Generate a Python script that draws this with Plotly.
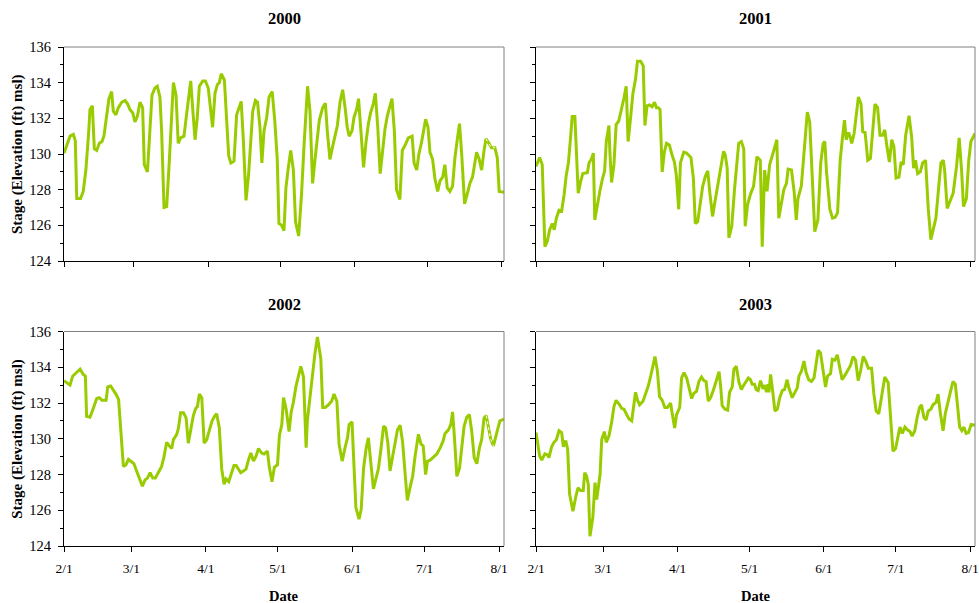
import plotly.graph_objects as go
import pandas as pd

# ---------------- data (day offset from Feb 1, stage in ft msl) ----------------
years = [2000, 2001, 2002, 2003]
month_labels = ["2/1", "3/1", "4/1", "5/1", "6/1", "7/1", "8/1"]

days_2000 = [0, 2.5, 3.9, 4.7, 5.3, 6.9, 8, 9.1, 10.3, 10.8, 11.8, 12.6, 13.6, 14.7, 15.8, 16.6, 18, 18.7,
             19.8, 20.5, 21.6, 22.6, 24, 25.4, 26.5, 27.4, 28.6, 29.5, 30.5, 31.6, 32.7, 33.4, 34.7, 35.5,
             36.6, 37.8, 38.8, 39.9, 40.6, 41.6, 42.7, 43.8, 45.5, 46.6, 47.5, 48.5, 49.9, 50.7, 51.7, 52.7,
             53.5, 54.5, 55.4, 56.3, 57.7, 58.8, 60, 61, 61.8, 62.8, 63.8, 64.6, 65.4, 66.7, 67.6, 68.5,
             69.4, 70.7, 71.8, 73.7, 74.6, 75.7, 76.8, 77.8, 78.5, 79.6, 80.5, 81.5, 82.3, 83.2, 84.3, 85.3,
             86.6, 87.7, 88.7, 89.4, 90.5, 91.5, 92.3, 93.4, 94.3, 95.4, 96.3, 97.6, 98.8, 99.8, 100.5,
             101.3, 102.3, 103.4, 104.4, 105.4, 106.2, 107.6, 108.7, 109.5, 110.6, 111.7, 112.8, 113.7,
             114.8, 115.9, 117, 117.8, 118.6, 119.8, 120.6, 121.7, 122.5, 123.4, 124.6, 125.6, 126.6,
             127.5, 128.6, 129.5, 130.5, 131.5, 132.5, 133.5, 134.5, 135.6, 136.4, 137.4, 138.3, 139.7,
             140.7, 141.9, 143.2, 144.8, 145.6, 146.7, 147.6, 148.7, 149.4, 150.4, 151.4, 152.2, 153.3,
             154.3, 155.4, 156.4, 157.5, 158.4, 159.4, 160.5, 161.6, 162.6, 163.6, 164.5, 165.4, 166.6,
             167.7, 168.8, 169.9, 170.9, 171.6, 172.7, 173.7, 174.7, 175.5, 176.5, 177.8, 179.2, 180.2,
             181, 183]
stage_2000 = [130.04, 131.0, 131.1, 130.75, 127.5, 127.5, 127.9, 129.1, 131.3, 132.5, 132.7, 130.3, 130.2,
              130.6, 130.7, 131.0, 132.4, 133.1, 133.5, 132.4, 132.2, 132.6, 132.9, 133.0, 132.8, 132.5,
              132.3, 131.8, 132.1, 132.9, 132.6, 129.4, 129.0, 130.6, 133.3, 133.7, 133.8, 133.2, 131.3,
              127.0, 127.05, 129.6, 134.0, 133.3, 130.6, 130.9, 131.0, 131.9, 133.2, 134.1, 132.6, 130.8,
              132.0, 133.8, 134.1, 134.1, 133.7, 132.6, 131.5, 133.4, 133.9, 134.0, 134.5, 134.15, 132.05,
              129.9, 129.5, 129.6, 132.2, 132.95, 130.75, 127.4, 128.9, 130.65, 132.4, 133.0, 132.9,
              131.5, 129.5, 131.3, 132.05, 133.2, 133.5, 131.8, 129.7, 126.1, 126.0, 125.7, 128.1, 129.35,
              130.2, 129.1, 126.2, 125.4, 127.75, 130.4, 132.4, 133.8, 132.4, 128.35, 129.7, 130.75, 131.9,
              132.6, 132.85, 131.3, 129.7, 130.4, 131.1, 131.6, 132.9, 133.6, 132.5, 131.5, 131.0, 131.3,
              132.05, 132.5, 133.1, 131.5, 129.25, 130.65, 131.7, 132.3, 132.8, 133.4, 131.5, 128.9,
              130.2, 131.4, 132.15, 132.7, 133.1, 131.3, 128.0, 127.45, 130.2, 130.5, 130.9, 131.0, 129.5,
              129.1, 130.0, 130.65, 131.1, 131.95, 131.5, 130.1, 129.7, 128.6, 127.9, 128.5, 128.7, 129.4,
              128.1, 127.9, 128.2, 129.8, 130.85, 131.7, 130.0, 127.2, 127.75, 128.35, 128.7, 129.45,
              130.1, 129.7, 129.1, 130.2, 130.85, 130.65, 130.35, 130.35, 129.8, 127.9, 127.85]

days_2001 = [0, 1.5, 2.6, 3.7, 4.7, 5.7, 6.8, 7.6, 8.5, 9.6, 10.7, 11.7, 12.6, 13.5, 14.4, 15.1, 16.2, 16.9,
             17.6, 18.6, 19.5, 21.4, 22.1, 23.2, 23.9, 24.5, 25.5, 26.6, 27.6, 28.6, 29.3, 30.4, 30.8,
             31.5, 32.5, 33.4, 34.5, 35.6, 36.6, 37.6, 38.4, 39.4, 40.4, 41.5, 42.3, 43.6, 44.7, 45.4,
             46.3, 47.3, 48.4, 49.4, 50.2, 50.9, 51.7, 52.6, 53.5, 54.4, 55.6, 56.7, 57.7, 58.5, 59.5,
             60.2, 61.6, 62.8, 64.6, 65.6, 66.4, 67.4, 68.5, 69.5, 70.6, 71.6, 72.4, 73.6, 74.5, 75.6,
             76.9, 78.2, 78.9, 79.7, 80.4, 81.6, 82.8, 83.8, 84.5, 85.6, 86.6, 87.2, 88.2, 89.3, 90.7,
             92.1, 93.5, 94.3, 95.3, 96.3, 97.4, 98.6, 99.6, 100.4, 101.2, 102.3, 103.3, 104.4, 105.1,
             106.5, 107.6, 108.5, 109.2, 110.6, 112, 113.1, 114.1, 115.2, 116.2, 117.5, 118.7, 119.7,
             120.4, 121.1, 122.5, 123.6, 124.7, 125.7, 126.8, 127.7, 128.6, 129.3, 130.3, 131, 131.6,
             132.6, 133.3, 134.4, 135.5, 136.2, 137.2, 138.3, 139.4, 140.5, 141.3, 142.4, 143.4, 144.5,
             145.4, 146.2, 147.3, 148.3, 149.2, 150.1, 151.3, 152.2, 153.1, 154.1, 155.5, 156.6, 157.4,
             158.2, 159.1, 160.2, 161.2, 162.4, 163.5, 164.6, 165.6, 166.7, 167.7, 168.8, 169.8, 170.4,
             171.4, 172.5, 173.9, 175.3, 176.4, 177.4, 178.2, 179.4, 180.4, 181.3, 183]
stage_2001 = [129.3, 129.8, 129.4, 124.8, 125.1, 125.75, 126.1, 125.75, 126.4, 126.85, 126.8, 127.7, 128.8,
              129.5, 130.9, 132.1, 132.1, 129.9, 127.8, 128.45, 128.9, 128.95, 129.5, 129.75, 130.05,
              126.3, 127.15, 127.9, 128.55, 129.05, 130.7, 131.6, 130.1, 128.4, 129.4, 131.65, 131.85,
              132.45, 133.1, 133.8, 130.7, 132.0, 133.4, 134.2, 135.2, 135.2, 134.95, 131.6, 132.7,
              132.75, 132.65, 132.9, 132.6, 132.6, 132.5, 129.0, 130.1, 130.6, 130.5, 129.95, 129.55,
              128.8, 126.9, 129.5, 130.1, 130.05, 129.8, 128.65, 126.1, 126.2, 127.35, 128.2, 128.75,
              129.05, 127.9, 126.5, 127.25, 128.1, 129.0, 130.15, 129.95, 129.2, 125.3, 125.95, 128.1,
              129.75, 130.6, 130.7, 130.3, 125.95, 127.15, 127.7, 128.2, 129.85, 129.65, 124.8, 129.1,
              127.9, 129.4, 129.95, 130.4, 130.8, 126.4, 127.15, 128.0, 128.35, 129.15, 129.1, 127.9,
              126.3, 127.5, 128.2, 130.5, 132.35, 131.8, 128.1, 125.65, 126.3, 129.5, 130.6, 130.7, 129.0,
              126.9, 126.4, 126.45, 126.7, 129.65, 130.85, 131.9, 130.8, 131.2, 130.95, 130.6, 131.15,
              132.1, 133.2, 132.8, 131.25, 131.2, 129.65, 129.75, 131.6, 132.8, 132.6, 131.05, 131.05,
              131.35, 130.5, 129.55, 130.8, 130.4, 128.65, 128.7, 129.55, 129.4, 131.05, 132.15, 130.95,
              129.2, 129.65, 128.9, 129.0, 129.5, 129.65, 126.95, 125.2, 125.75, 126.4, 127.9, 129.5,
              129.65, 129.0, 126.95, 127.35, 127.8, 129.3, 130.9, 129.1, 127.05, 127.5, 129.65, 130.7,
              131.15]

days_2002 = [0, 1.4, 2.5, 3.6, 5, 6.7, 8, 8.9, 9.4, 10.8, 12.2, 13.6, 14.7, 15.8, 17.5, 18.2, 19.4, 20.5,
             21.6, 22.7, 23.6, 24.7, 25.8, 26.8, 28.2, 29.1, 30.2, 31.3, 32.6, 33.7, 34.7, 35.8, 36.9, 38,
             39.3, 40.6, 41.6, 42.7, 43.8, 44.8, 45.5, 46.9, 47.6, 48.5, 49.7, 50.8, 51.7, 52.8, 53.8,
             54.8, 55.5, 56.3, 57.3, 58.3, 59.4, 60.5, 61.6, 62.6, 63.5, 64.6, 65.6, 66.6, 67.4, 68.5,
             69.8, 70.7, 71.6, 72.5, 73.5, 74.6, 75.7, 76.7, 77.7, 78.8, 79.8, 80.9, 82.2, 83.2, 84.6,
             85.4, 86.5, 87.5, 88.8, 89.6, 90.6, 91.3, 92.4, 93.6, 94.5, 95.4, 96.5, 97.5, 98.5, 99.6,
             100.7, 101.2, 102.4, 103.5, 104.4, 105.4, 106.8, 107.6, 108.6, 110, 111.3, 112.3, 113.5,
             114.4, 115.7, 116.9, 117.9, 118.6, 119.8, 120.4, 121.4, 122.7, 123.6, 124.6, 125.7, 126.6,
             127.6, 128.7, 129.8, 130.8, 131.8, 132.9, 133.8, 134.7, 135.6, 136.6, 137.7, 138.7, 139.8,
             140.8, 141.9, 142.8, 143.9, 145, 146, 147.4, 148.5, 149.4, 150.4, 151.2, 152.3, 153.7,
             155.1, 156.5, 157.6, 158.5, 159.9, 160.9, 161.6, 162.4, 163.4, 164.5, 165.5, 166.4, 167.5,
             168.6, 169.6, 170.6, 171.7, 172.8, 173.7, 174.7, 175.6, 176.5, 177.5, 178.6, 179.7, 180.6,
             181.3, 183]
stage_2002 = [133.25, 133.1, 133.0, 133.5, 133.7, 133.9, 133.6, 133.5, 131.25, 131.2, 131.7, 132.25, 132.3,
              132.15, 132.15, 132.9, 132.95, 132.75, 132.5, 132.2, 130.6, 128.45, 128.55, 128.85, 128.7,
              128.6, 128.2, 127.75, 127.35, 127.7, 127.8, 128.1, 127.8, 127.8, 128.1, 128.45, 129.0,
              129.8, 129.6, 129.45, 129.95, 130.25, 130.6, 131.45, 131.45, 131.15, 129.75, 130.6, 131.3,
              131.7, 131.8, 132.5, 132.3, 129.75, 129.95, 130.5, 131.0, 131.25, 131.4, 130.6, 128.3,
              127.45, 127.75, 127.6, 128.2, 128.5, 128.5, 128.3, 128.1, 128.2, 128.3, 128.8, 129.2, 128.75,
              129.0, 129.45, 129.2, 129.15, 129.3, 128.4, 127.6, 128.4, 128.55, 130.2, 130.8, 132.3,
              131.65, 130.4, 131.5, 132.05, 132.95, 133.5, 134.05, 133.45, 129.5, 131.0, 132.45, 133.8,
              134.8, 135.7, 134.5, 131.75, 131.75, 131.9, 132.1, 132.5, 132.1, 129.7, 128.75, 129.5,
              130.05, 130.8, 130.95, 129.1, 126.15, 125.5, 126.05, 128.35, 129.5, 130.05, 128.75, 127.2,
              127.8, 128.35, 129.4, 130.7, 130.6, 129.75, 128.2, 128.9, 129.65, 130.5, 130.75, 129.85,
              128.0, 126.55, 127.25, 127.9, 129.0, 130.25, 129.7, 129.6, 128.0, 128.75, 128.8, 128.95,
              129.15, 129.5, 129.85, 130.3, 130.5, 130.8, 131.5, 130.05, 127.9, 128.35, 129.6, 130.7,
              131.2, 131.35, 130.4, 128.95, 128.6, 129.5, 129.95, 131.15, 131.3, 130.6, 129.95, 129.6,
              130.25, 130.65, 131.0, 131.1]

days_2003 = [0, 1.5, 2.4, 3.7, 4.7, 5.4, 6.5, 7.5, 8.5, 9.6, 10.7, 11.4, 12.4, 13.2, 14, 15.4, 16.5, 17.5,
             18.6, 19.7, 20.3, 21.1, 21.8, 22.5, 23.7, 24.6, 25.3, 26.7, 27.4, 28.5, 29.3, 30.4, 31.5,
             32.5, 33.4, 34.6, 35.7, 36.7, 37.8, 38.8, 39.9, 40.8, 41.5, 42.2, 43.2, 44.6, 45.7, 46.8,
             47.8, 48.7, 49.6, 50.6, 51.5, 52.6, 53.7, 54.8, 56.1, 56.8, 57.8, 58.6, 59.9, 60.7, 61.7,
             62.8, 63.8, 64.9, 65.8, 66.9, 67.9, 69, 70, 70.9, 71.8, 72.8, 73.9, 75, 76.3, 77, 77.6, 78.8,
             79.9, 80.7, 81.8, 82.5, 83.5, 84.6, 85.6, 86.4, 87.4, 88.5, 89.4, 90.1, 91.1, 91.8, 92.6,
             93.6, 94.6, 95.4, 96.1, 96.7, 97.1, 97.8, 98.8, 99.6, 100.6, 101.6, 102.7, 103.6, 104.7,
             105.4, 106.8, 107.9, 108.9, 109.6, 110.7, 111.7, 112.6, 113.7, 114.8, 115.9, 116.8, 117.6,
             118.6, 119.6, 120.7, 121.5, 122.8, 123.5, 124.6, 125.6, 126.5, 127.6, 129, 130.1, 131.1,
             132.2, 133.2, 134.3, 135.3, 136.4, 137.4, 138.5, 139.9, 140.8, 141.8, 142.9, 144, 145.4,
             146.8, 147.8, 148.8, 149.9, 150.9, 151.7, 152.7, 153.8, 154.8, 155.9, 156.8, 157.9, 158.9,
             159.9, 160.7, 161.7, 162.6, 163.5, 164.6, 165.5, 166.8, 167.6, 168.6, 169.7, 170.6, 171.8,
             172.8, 173.8, 174.8, 175.6, 176.6, 177.5, 178.4, 179.3, 180.3, 181.4, 183]
stage_2003 = [130.35, 129.05, 128.8, 129.15, 129.1, 128.95, 129.55, 129.8, 129.95, 130.45, 130.35, 129.55,
              129.9, 129.4, 126.9, 125.95, 126.7, 127.25, 127.1, 127.1, 128.1, 127.9, 127.45, 124.55,
              125.6, 127.55, 126.6, 128.0, 129.95, 130.4, 129.8, 130.15, 130.9, 131.8, 132.15, 131.95,
              131.7, 131.65, 131.35, 131.1, 131.0, 131.9, 132.6, 132.2, 131.9, 132.1, 132.5, 132.95,
              133.5, 134.0, 134.6, 133.8, 132.35, 132.15, 131.75, 131.75, 132.0, 131.4, 130.6, 131.35,
              131.75, 133.4, 133.7, 133.4, 132.85, 132.25, 132.55, 132.65, 133.2, 133.45, 133.25, 133.2,
              132.1, 132.3, 132.7, 133.15, 133.75, 132.9, 131.85, 131.65, 131.6, 132.6, 132.9, 133.9,
              134.05, 133.15, 132.75, 132.95, 133.2, 133.4, 133.3, 133.05, 133.05, 132.75, 132.7, 133.25,
              132.8, 133.0, 132.6, 133.05, 132.6, 133.6, 132.5, 131.55, 131.65, 132.3, 132.7, 132.75,
              133.3, 132.85, 132.3, 132.55, 132.85, 133.5, 133.8, 134.35, 133.7, 133.3, 133.2, 133.4,
              134.15, 134.95, 134.8, 133.95, 132.9, 133.5, 133.65, 134.45, 134.4, 134.7, 134.15, 133.3,
              133.6, 133.9, 134.1, 134.6, 134.4, 133.25, 133.8, 134.6, 134.35, 133.95, 133.95, 132.55,
              131.55, 131.4, 132.3, 133.45, 133.15, 131.2, 129.3, 129.45, 130.25, 130.65, 130.3, 130.65,
              130.5, 130.4, 130.15, 130.45, 131.2, 131.75, 131.9, 131.2, 131.05, 131.55, 131.65, 131.9,
              132.05, 132.5, 131.4, 130.45, 131.4, 132.0, 132.65, 133.2, 133.05, 132.0, 130.65, 130.45,
              130.65, 130.3, 130.35, 130.8, 130.75]

# short provisional (dashed) stretches near the end of 2000 and 2002
dash_days_2000 = [175.5, 176.5, 177.8, 179.2]
dash_stage_2000 = [130.85, 130.65, 130.35, 130.35]
dash_days_2002 = [175.6, 176.5, 177.5, 178.6]
dash_stage_2002 = [131.3, 130.6, 129.95, 129.6]

series = {2000: (days_2000, stage_2000), 2001: (days_2001, stage_2001),
          2002: (days_2002, stage_2002), 2003: (days_2003, stage_2003)}
dashed = {2000: (dash_days_2000, dash_stage_2000), 2002: (dash_days_2002, dash_stage_2002)}

# ---------------- figure ----------------
W, H = 979, 603
LINE = "#99CC00"
SERIF = "Liberation Serif"

xdom = {0: [64 / W, 504 / W], 1: [536 / W, 975 / W]}
ydom = {0: [1 - 261 / H, 1 - 47 / H], 1: [1 - 546 / H, 1 - 331.5 / H]}


def to_dates(year, d):
    base = pd.Timestamp(f"{year}-02-01")
    return [base + pd.Timedelta(days=v) for v in d]


fig = go.Figure()
layout = dict(width=W, height=H, margin=dict(l=0, r=0, t=0, b=0, autoexpand=False),
              paper_bgcolor="white", plot_bgcolor="white", showlegend=False,
              font=dict(family=SERIF, size=14, color="black"))
shapes, annotations = [], []

for i, yr in enumerate(years):
    row, col = i // 2, i % 2
    n = i + 1
    xa = "x" if n == 1 else f"x{n}"
    ya = "y" if n == 1 else f"y{n}"
    d, v = series[yr]
    fig.add_trace(go.Scatter(x=to_dates(yr, d), y=v, mode="lines", xaxis=xa, yaxis=ya,
                             line=dict(color=LINE, width=3), hoverinfo="skip"))
    if yr in dashed:
        dd, dv = dashed[yr]
        fig.add_trace(go.Scatter(x=to_dates(yr, dd), y=dv, mode="lines", xaxis=xa, yaxis=ya,
                                 line=dict(color="white", width=1, dash="dot"), hoverinfo="skip"))

    base = pd.Timestamp(f"{yr}-02-01")
    tickvals = [pd.Timestamp(f"{yr}-{m:02d}-01") for m in range(2, 9)]
    layout["xaxis" if n == 1 else f"xaxis{n}"] = dict(
        domain=xdom[col], anchor=ya, type="date", automargin=False,
        range=[base, base + pd.Timedelta(days=183)],
        tickmode="array", tickvals=tickvals, ticktext=month_labels,
        showticklabels=(row == 1), ticks="outside", ticklen=5, tickcolor="black",
        ticklabelstandoff=5,
        showline=True, linecolor="black", linewidth=1, showgrid=False, zeroline=False,
        tickfont=dict(family=SERIF, size=13.5, color="black"))
    layout["yaxis" if n == 1 else f"yaxis{n}"] = dict(
        domain=ydom[row], anchor=xa, range=[124, 136], tickmode="linear", tick0=124, dtick=2,
        automargin=False,
        showticklabels=(col == 0), ticks="outside", ticklen=5, tickcolor="black",
        ticklabelstandoff=4,
        minor=dict(ticks="outside", ticklen=3, dtick=1, tick0=124, tickcolor="black"),
        showline=True, linecolor="black", linewidth=1, showgrid=False, zeroline=False,
        tickfont=dict(family=SERIF, size=14.5, color="black"))

    # grey top and right frame lines
    shapes.append(dict(type="line", xref=f"{xa} domain", yref=f"{ya} domain",
                       x0=0, x1=1, y0=1, y1=1, line=dict(color="#808080", width=1)))
    shapes.append(dict(type="line", xref=f"{xa} domain", yref=f"{ya} domain",
                       x0=1, x1=1, y0=0, y1=1, line=dict(color="#808080", width=1)))

    xc = (xdom[col][0] + xdom[col][1]) / 2
    ty = 1 - 19 / H if row == 0 else 1 - 304 / H
    annotations.append(dict(text=f"<b>{yr}</b>", x=xc, y=ty, xref="paper", yref="paper",
                            showarrow=False, xanchor="center", yanchor="middle",
                            font=dict(family=SERIF, size=16.5, color="black")))
    if col == 0:
        yc = (ydom[row][0] + ydom[row][1]) / 2
        annotations.append(dict(text="<b>Stage (Elevation (ft) msl)</b>", x=18 / W, y=yc,
                                xref="paper", yref="paper", showarrow=False, textangle=-90,
                                xanchor="center", yanchor="middle",
                                font=dict(family=SERIF, size=15, color="black")))
    if row == 1:
        annotations.append(dict(text="<b>Date</b>", x=xc, y=1 - 596 / H, xref="paper", yref="paper",
                                showarrow=False, xanchor="center", yanchor="middle",
                                font=dict(family=SERIF, size=14.5, color="black")))

layout["shapes"] = shapes
layout["annotations"] = annotations
fig.update_layout(**layout)
fig.write_html("out.html", config={"displayModeBar": False},
               post_script="document.body.style.margin='0';document.body.style.overflow='hidden';")
